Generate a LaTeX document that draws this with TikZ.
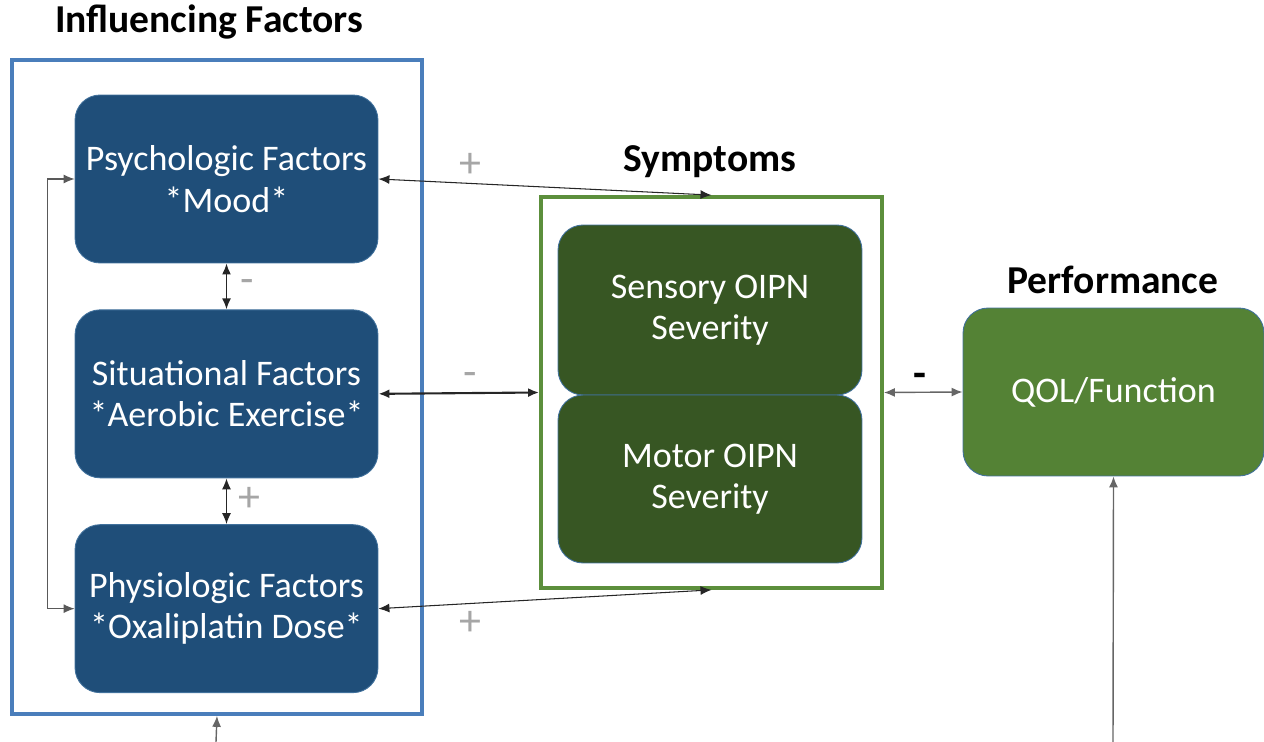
\documentclass[tikz,border=0pt]{standalone}
\usepackage{fontspec}
\setmainfont{Carlito}
\usepackage{tikz}
\usetikzlibrary{positioning,arrows.meta}
\definecolor{factblue}{HTML}{1F4E79}
\definecolor{frameblue}{HTML}{4A7EBB}
\definecolor{framegreen}{HTML}{5C8F3C}
\definecolor{symgreen}{HTML}{375623}
\definecolor{perfgreen}{HTML}{548235}
\definecolor{outl}{HTML}{41719C}
\definecolor{signgray}{HTML}{A6A6A6}

\begin{document}
\begin{tikzpicture}[x=0.02cm,y=-0.02cm,node distance=0.92cm,
	box/.style={rectangle,rounded corners=0.5cm,draw=outl,line width=0.5pt,text=white,align=center,
		minimum width=6.06cm,minimum height=3.36cm,font=\fontsize{20.5}{23.5}\selectfont},
	factor/.style={box,fill=factblue},
	symptom/.style={box,fill=symgreen,minimum width=6.08cm},
	title/.style={font=\fontsize{22.5}{26}\selectfont\bfseries},
	sign/.style={text=signgray,font=\fontsize{25}{28}\selectfont},
	link/.style={{Latex[length=2.2mm,width=1.8mm]}-{Latex[length=2.2mm,width=1.8mm]},line width=0.6pt,black!85},
	into/.style={-{Latex[length=2.2mm,width=1.8mm]},line width=0.8pt,black!60}]
	\useasboundingbox (0,0) rectangle (1264,742);
	\node[title] (inftitle) at (209,22) {Influencing Factors};
	\node[draw=frameblue,line width=2.2pt,minimum width=8.2cm,minimum height=13.08cm] (infframe) at (217,387) {};
	\node[factor] (psy) at (226.5,179) {Psychologic Factors\\*Mood*};
	\node[factor] (sit) [below=of psy] {Situational Factors\\*Aerobic Exercise*};
	\node[factor] (phy) [below=of sit] {Physiologic Factors\\*Oxaliplatin Dose*};
	\node[title] (symtitle) at (710,162) {Symptoms};
	\node[draw=framegreen,line width=2.2pt,minimum width=6.82cm,minimum height=7.82cm] (symframe) at (711.5,392.5) {};
	\node[symptom,minimum height=3.4cm] (sens) at (710,310) {Sensory OIPN\\Severity};
	\node[symptom] (mot) at (710,479) {Motor OIPN\\Severity};
	\node[title] (perftitle) at (1113,280) {Performance};
	\node[box,fill=perfgreen,minimum width=6.02cm] (qol) at (1113.5,392) {QOL/Function};
	\coordinate (infin) at (216,742);
	\coordinate (qolin) at (1113,742);
	\draw[link] (psy.east) -- (symframe.north);
	\draw[link] (phy.east) -- (symframe.south);
	\draw[link,line width=1.2pt] (sit.east) -- (symframe.west);
	\draw[link,line width=0.8pt,black!60] (symframe.east) -- (qol.west);
	\draw[link,line width=1pt] (psy.south) -- (sit.north);
	\draw[link,line width=1pt] (sit.south) -- (phy.north);
	\draw[link,black!65] (psy.west) -- ++(-27,0) |- (phy.west);
	\draw[into] (infin) -- (infframe.south);
	\draw[into] (qolin) -- (qol.south);
	\node[sign] at (470,165) {+};
	\node[sign] at (470,623) {+};
	\node[sign] at (470,380) {-};
	\node[sign] at (247,287) {-};
	\node[sign] at (249,499) {+};
	\node[font=\fontsize{24}{28}\selectfont\bfseries] at (920,380) {-};
\end{tikzpicture}
\end{document}
